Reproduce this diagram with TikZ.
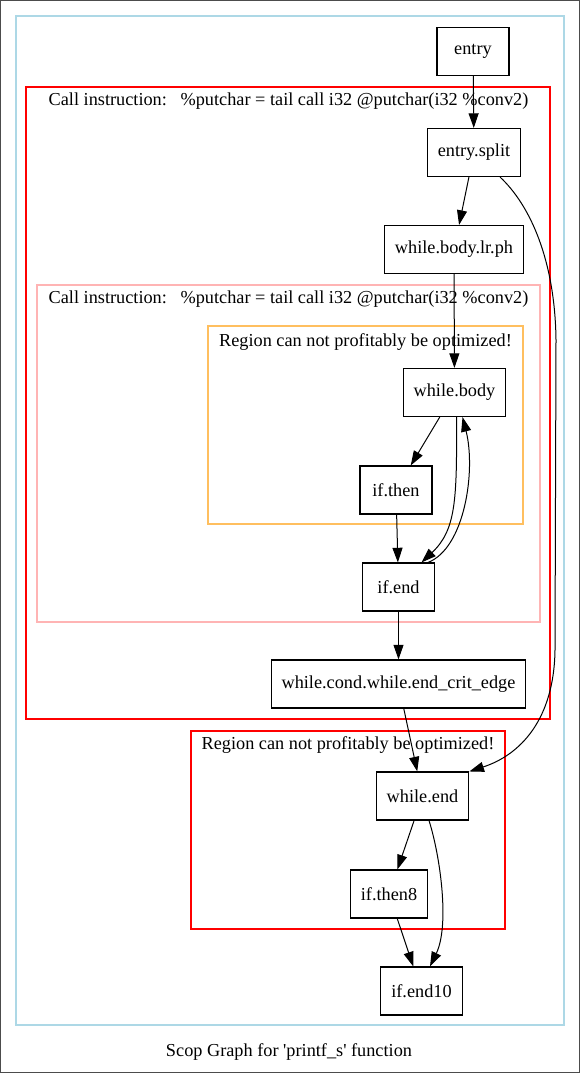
\documentclass[tikz,border=0pt]{standalone}
\usepackage{fontspec}
\setmainfont{Liberation Serif}
\usetikzlibrary{arrows.meta}
\usetikzlibrary{calc}
\definecolor{clblue}{HTML}{ADD8E6}
\definecolor{clpink}{HTML}{FFB4B4}
\definecolor{clorange}{HTML}{FFBF5F}
\tikzset{
  bb/.style={draw, line width=0.8pt, minimum width=54pt, minimum height=36pt, inner xsep=7.9pt, inner ysep=0pt},
  edge/.style={line width=0.75pt, -{Triangle[length=11pt,width=7.5pt]}},
  clus/.style={line width=0.8pt},
  clab/.style={inner sep=0pt}
}
\begin{document}
\begin{tikzpicture}[x=0.75pt, y=-0.75pt, font=\fontsize{13.7}{16}\selectfont]
				\useasboundingbox (0,0) rectangle (580,1073);
				\draw[black!70, line width=0.8pt] (0.5,0.5) rectangle (579.5,1072.5);
				\draw[clus, clblue] (16,16) rectangle (564,1025);
				\draw[clus, red] (26,87) rectangle (550,719);
				\draw[clus, clpink] (37,285) rectangle (540,622);
				\draw[clus, clorange] (208,326) rectangle (523,524);
				\draw[clus, red] (191,731) rectangle (505,929);
				\node[clab] (lab1) at (288.5,101) {Call instruction:\ \ \ \%putchar = tail call i32 @putchar(i32 \%conv2)};
				\node[clab] (lab2) at (288.5,299) {Call instruction:\ \ \ \%putchar = tail call i32 @putchar(i32 \%conv2)};
				\node[clab] (lab3) at (365.5,342) {Region can not profitably be optimized!};
				\node[clab] (lab4) at (348,745) {Region can not profitably be optimized!};
				\node[bb] (entry) at (473,51.5) {entry};
				\node[bb] (split) at (474,152.5) {entry.split};
				\node[bb] (lrph) at (454,249.5) {while.body.lr.ph};
				\node[bb] (body) at (454.5,392.5) {while.body};
				\node[bb] (ifthen) at (396,490) {if.then};
				\node[bb] (ifend) at (398.5,587) {if.end};
				\node[bb] (crit) at (398.5,684) {while.cond.while.end\_crit\_edge};
				\node[bb] (wend) at (422.5,796) {while.end};
				\node[bb] (then8) at (389,894) {if.then8};
				\node[bb] (end10) at (421.5,991) {if.end10};
				\node[clab] (title) at (289,1052) {Scop Graph for \textquotesingle printf\_s\textquotesingle{} function};
				\draw[edge] (entry) -- (split);
				\draw[edge] (split) -- (lrph);
				\draw[edge] (lrph) -- (body);
				\draw[edge] (body) -- (ifthen);
				\draw[edge] (ifthen) -- (ifend);
				\draw[edge] (ifend) -- (crit);
				\draw[edge] (crit) -- (wend);
				\draw[edge] (wend) -- (then8);
				\draw[edge] (then8) -- (end10);
				\draw[edge] ($(split.south)+(26,0)$) .. controls (530,205) and (555,260) .. (556,340) -- (555,650) .. controls (554,720) and (520,755) .. (wend.north east);
				\draw[edge] ($(body.south)+(2,0)$) .. controls (457,500) and (456,530) .. ($(ifend.north)+(23,0)$);
				\draw[edge] ($(ifend.north)+(29.5,0)$) .. controls (465,548) and (476,470) .. ($(body.south)+(8,0)$);
				\draw[edge] ($(wend.south)+(6.5,0)$) .. controls (440,855) and (450,925) .. ($(end10.north)+(8.5,0)$);
\end{tikzpicture}
\end{document}
